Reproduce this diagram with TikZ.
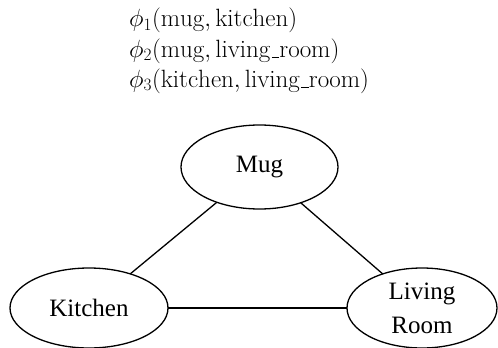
\documentclass[tikz,border=0pt]{standalone}
\usepackage{fontspec}
\usetikzlibrary{shapes.geometric}
\newfontfamily\lblfont{Liberation Serif}
\newcommand\myusc{\mbox{\kern.06em\vbox{\hrule width.3em}}}
\begin{document}
\begin{tikzpicture}[x=1pt,y=-1pt,
  state/.style={draw,ellipse,line width=1.3pt,inner sep=0pt,outer sep=0pt,
    font=\lblfont\fontsize{25}{34}\selectfont,align=center},
  edge/.style={line width=1.3pt},
  pot/.style={anchor=base west,inner sep=0pt,font=\fontsize{25}{30}\selectfont}]
\useasboundingbox (0,0) rectangle (498,348);
\node[pot] (f1) at (129,27) {$\phi_1(\mathrm{mug}, \mathrm{kitchen})$};
\node[pot] (f2) at (129,57) {$\phi_2(\mathrm{mug}, \mathrm{living\myusc room})$};
\node[pot] (f3) at (129,87) {$\phi_3(\mathrm{kitchen}, \mathrm{living\myusc room})$};
\node[state,minimum width=157pt,minimum height=84pt] (mug) at (259.5,167) {Mug};
\node[state,minimum width=158pt,minimum height=80pt] (kit) at (89,308) {Kitchen};
\node[state,minimum width=150pt,minimum height=80pt] (liv) at (422,308) {Living\\Room};
\draw[edge] (mug) -- (kit);
\draw[edge] (mug) -- (liv);
\draw[edge] (kit) -- (liv);
\end{tikzpicture}
\end{document}
